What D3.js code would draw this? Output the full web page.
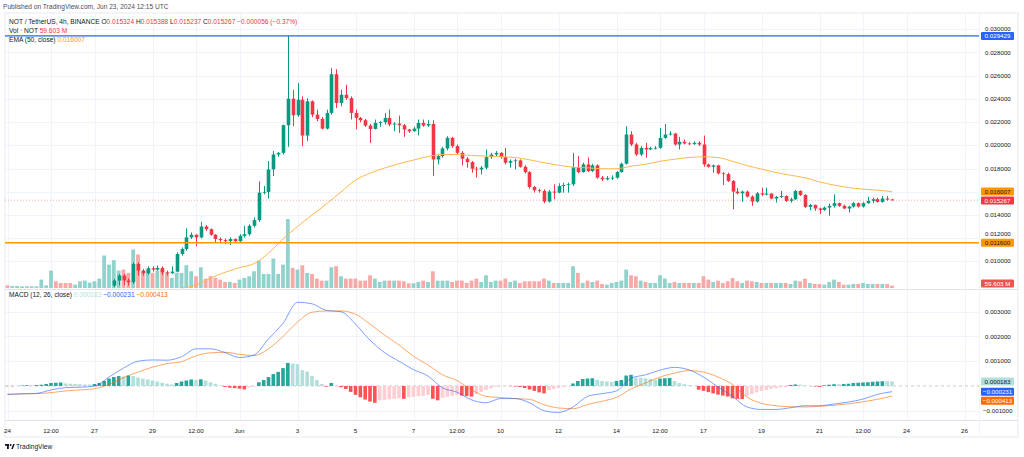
<!DOCTYPE html>
<html lang="en">
<head>
<meta charset="UTF-8">
<title>NOT / TetherUS, 4h, BINANCE</title>
<script src="https://d3js.org/d3.v7.min.js"></script>
<style>
  body { margin: 0; background: #fff; }
  svg { display: block; font-family: "Liberation Sans", Arial, sans-serif; }
</style>
</head>
<body>
<svg id="chart" width="1024" height="457"></svg>
<script>
// ---- data ----
// 4h candles, index 0 = 2024-05-24 00:00 UTC. Candles before index 22 sit below the visible price range.
const firstCandle = 22;
const firstOpen = 0.00791;
const closes = [
  0.00834, 0.00877, 0.00834, 0.00820, 0.00977, 0.00920, 0.00897, 0.00940, 0.00928, 0.00943,
  0.00905, 0.00897, 0.00911, 0.01063, 0.01106, 0.01206, 0.01229, 0.01206, 0.01300, 0.01277,
  0.01229, 0.01192, 0.01183, 0.01174, 0.01192, 0.01174, 0.01220, 0.01234, 0.01306, 0.01355,
  0.01592, 0.01598, 0.01792, 0.01921, 0.01935, 0.02173, 0.02402, 0.02259, 0.02393, 0.02084,
  0.02379, 0.02264, 0.02227, 0.02144, 0.02279, 0.02613, 0.02365, 0.02436, 0.02407, 0.02279,
  0.02236, 0.02216, 0.02170, 0.02141, 0.02193, 0.02199, 0.02236, 0.02179, 0.02187, 0.02173,
  0.02136, 0.02121, 0.02144, 0.02193, 0.02170, 0.02184, 0.01878, 0.01907, 0.01973, 0.02064,
  0.01993, 0.01935, 0.01884, 0.01855, 0.01798, 0.01792, 0.01807, 0.01898, 0.01921, 0.01935,
  0.01898, 0.01850, 0.01864, 0.01870, 0.01815, 0.01769, 0.01641, 0.01612, 0.01606, 0.01515,
  0.01601, 0.01592, 0.01649, 0.01658, 0.01664, 0.01812, 0.01769, 0.01835, 0.01778, 0.01827,
  0.01721, 0.01707, 0.01718, 0.01721, 0.01769, 0.01841, 0.02093, 0.02007, 0.01921, 0.01978,
  0.01964, 0.01975, 0.01978, 0.02064, 0.02093, 0.02101, 0.02007, 0.02030, 0.02016, 0.02010,
  0.02021, 0.02007, 0.01835, 0.01815, 0.01827, 0.01758, 0.01752, 0.01692, 0.01601, 0.01586,
  0.01601, 0.01558, 0.01515, 0.01586, 0.01575, 0.01584, 0.01541, 0.01555, 0.01563, 0.01521,
  0.01535, 0.01606, 0.01572, 0.01469, 0.01486, 0.01455, 0.01443, 0.01463, 0.01478, 0.01501,
  0.01478, 0.01455, 0.01472, 0.01501, 0.01472, 0.01501, 0.01521, 0.01535, 0.01512, 0.01541,
  0.015324, 0.015267
];
const highs = [
  0.00848, 0.00891, 0.00891, 0.00854, 0.00991, 0.00991, 0.00934, 0.00957, 0.00957, 0.00963,
  0.00957, 0.00920, 0.00957, 0.01077, 0.01120, 0.01283, 0.01249, 0.01234, 0.01340, 0.01312,
  0.01283, 0.01234, 0.01206, 0.01197, 0.01206, 0.01197, 0.01234, 0.01306, 0.01320, 0.01378,
  0.01689, 0.01649, 0.01864, 0.01950, 0.01941, 0.02179, 0.029429, 0.02479, 0.02536, 0.02422,
  0.02407, 0.02387, 0.02307, 0.02244, 0.02307, 0.02665, 0.02656, 0.02479, 0.02522, 0.02422,
  0.02307, 0.02244, 0.02227, 0.02184, 0.02222, 0.02210, 0.02279, 0.02307, 0.02199, 0.02256,
  0.02184, 0.02141, 0.02159, 0.02222, 0.02222, 0.02216, 0.02216, 0.01921, 0.01987, 0.02078,
  0.02073, 0.02007, 0.01950, 0.01898, 0.01864, 0.01815, 0.01821, 0.01964, 0.01935, 0.01950,
  0.01941, 0.01978, 0.01878, 0.01884, 0.01878, 0.01827, 0.01778, 0.01649, 0.01626, 0.01621,
  0.01615, 0.01664, 0.01672, 0.01678, 0.01678, 0.01935, 0.01907, 0.01850, 0.01893, 0.01841,
  0.01835, 0.01735, 0.01735, 0.01741, 0.01778, 0.01850, 0.02164, 0.02121, 0.02021, 0.01993,
  0.02021, 0.01987, 0.01993, 0.02150, 0.02184, 0.02121, 0.02107, 0.02073, 0.02050, 0.02027,
  0.02033, 0.02036, 0.02084, 0.01841, 0.01835, 0.01832, 0.01769, 0.01764, 0.01701, 0.01632,
  0.01609, 0.01609, 0.01569, 0.01598, 0.01635, 0.01635, 0.01586, 0.01563, 0.01606, 0.01569,
  0.01549, 0.01615, 0.01612, 0.01578, 0.01495, 0.01489, 0.01463, 0.01472, 0.01498, 0.01578,
  0.01506, 0.01489, 0.01478, 0.01512, 0.01506, 0.01512, 0.01555, 0.01549, 0.01546, 0.01563,
  0.01563, 0.015388
];
const lows = [
  0.00777, 0.00791, 0.00791, 0.00791, 0.00805, 0.00877, 0.00877, 0.00883, 0.00911, 0.00920,
  0.00883, 0.00877, 0.00891, 0.00905, 0.01049, 0.01091, 0.01192, 0.01129, 0.01197, 0.01263,
  0.01220, 0.01163, 0.01163, 0.01149, 0.01140, 0.01163, 0.01163, 0.01206, 0.01220, 0.01292,
  0.01340, 0.01578, 0.01541, 0.01735, 0.01901, 0.01921, 0.01987, 0.02164, 0.02244, 0.01993,
  0.02036, 0.02244, 0.02207, 0.02136, 0.02136, 0.02264, 0.02322, 0.02336, 0.02393, 0.02222,
  0.02136, 0.02199, 0.02159, 0.02021, 0.02136, 0.02159, 0.02179, 0.02164, 0.02121, 0.02107,
  0.02073, 0.02107, 0.02119, 0.02084, 0.02159, 0.02159, 0.01735, 0.01835, 0.01893, 0.01958,
  0.01978, 0.01921, 0.01827, 0.01807, 0.01764, 0.01721, 0.01749, 0.01792, 0.01884, 0.01907,
  0.01884, 0.01835, 0.01807, 0.01792, 0.01807, 0.01758, 0.01626, 0.01592, 0.01592, 0.01501,
  0.01506, 0.01535, 0.01586, 0.01592, 0.01592, 0.01649, 0.01758, 0.01764, 0.01769, 0.01769,
  0.01712, 0.01692, 0.01698, 0.01701, 0.01712, 0.01764, 0.01835, 0.01993, 0.01907, 0.01907,
  0.01893, 0.01958, 0.01964, 0.01970, 0.02056, 0.02084, 0.01998, 0.01964, 0.02007, 0.02001,
  0.02004, 0.01993, 0.01815, 0.01807, 0.01764, 0.01749, 0.01658, 0.01684, 0.01449, 0.01578,
  0.01512, 0.01549, 0.01478, 0.01506, 0.01563, 0.01569, 0.01535, 0.01506, 0.01546, 0.01512,
  0.01506, 0.01529, 0.01563, 0.01460, 0.01440, 0.01435, 0.01406, 0.01435, 0.01392, 0.01463,
  0.01469, 0.01449, 0.01420, 0.01463, 0.01463, 0.01463, 0.01495, 0.01501, 0.01506, 0.01506,
  0.01523, 0.015237
];

// volume in millions, index 0..183
const volumes = [
  68, 51, 51, 43, 43, 43, 43, 213, 68, 442,
  170, 128, 128, 128, 85, 170, 187, 136, 170, 238,
  825, 595, 706, 442, 468, 383, 978, 850, 425, 468,
  383, 442, 468, 383, 255, 383, 383, 578, 425, 298,
  527, 238, 298, 255, 213, 153, 153, 128, 213, 255,
  298, 425, 697, 357, 357, 748, 357, 595, 1751, 510,
  468, 578, 383, 357, 238, 187, 187, 527, 553, 298,
  238, 238, 238, 187, 187, 323, 238, 153, 187, 187,
  187, 187, 170, 119, 119, 153, 187, 153, 425, 187,
  187, 187, 153, 187, 187, 128, 187, 238, 153, 323,
  153, 187, 187, 238, 153, 187, 128, 170, 170, 170,
  170, 238, 187, 128, 128, 128, 128, 553, 383, 128,
  187, 153, 187, 102, 85, 128, 153, 187, 468, 323,
  298, 187, 153, 128, 128, 323, 238, 128, 153, 128,
  128, 128, 128, 128, 298, 213, 153, 187, 128, 170,
  255, 170, 128, 187, 170, 153, 128, 128, 128, 128,
  128, 128, 102, 187, 170, 238, 128, 102, 102, 85,
  153, 213, 153, 85, 85, 102, 102, 128, 102, 102,
  102, 102, 102, 59.603
];
// direction of the hidden early candles (1 = up), index 0..21
const earlyUp = [0, 1, 1, 1, 1, 1, 1, 1, 1, 1, 0, 0, 0, 0, 1, 1, 1, 1, 1, 1, 1, 1];

// EMA(50), one value every 3 candles from index 36
const emaStart = 36;
const ema = [
  0.00770, 0.00795, 0.00855, 0.00905, 0.00945, 0.00980, 0.01070, 0.01192, 0.01300, 0.01398,
  0.01495, 0.01598, 0.01700, 0.01760, 0.01804, 0.01841, 0.01873, 0.01903, 0.01921, 0.01921,
  0.01912, 0.01907, 0.01902, 0.01895, 0.01875, 0.01850, 0.01828, 0.01812, 0.01806, 0.01798,
  0.01798, 0.01820, 0.01836, 0.01862, 0.01880, 0.01895, 0.01901, 0.01894, 0.01862, 0.01825,
  0.01795, 0.01765, 0.01742, 0.01720, 0.01684, 0.01657, 0.01636, 0.01622, 0.01613, 0.016007
];

// MACD histogram, index 0..183
const hist = [
  -0.00001, -0.00001, 0, 0.00002, 0.00003, 0.00003, 0.00004, 0.00005, 0.00008, 0.00012,
  0.00013, 0.00014, 0.00010, 0.00009, 0.00008, 0.00007, 0.00006, 0.00006, 0.00008, 0.00012,
  0.00020, 0.00030, 0.00036, 0.00040, 0.00038, 0.00042, 0.00040, 0.00034, 0.00030, 0.00026,
  0.00022, 0.00018, 0.00013, 0.00009, 0.00006, 0.00012, 0.00018, 0.00022, 0.00026, 0.00025,
  0.00027, 0.00022, 0.00015, 0.00009, 0.00002, -0.00004, -0.00007, -0.00009, -0.00011, -0.00014,
  -0.00006, -0.00003, 0.00015, 0.00024, 0.00036, 0.00048, 0.00057, 0.00072, 0.00093, 0.00090,
  0.00088, 0.00064, 0.00058, 0.00040, 0.00024, 0.00008, -0.00003, 0.00012, 0.00001, -0.00005,
  -0.00012, -0.00024, -0.00036, -0.00046, -0.00055, -0.00063, -0.00068, -0.00058, -0.00056, -0.00054,
  -0.00052, -0.00050, -0.00052, -0.00046, -0.00044, -0.00042, -0.00040, -0.00036, -0.00052, -0.00058,
  -0.00048, -0.00044, -0.00040, -0.00036, -0.00039, -0.00041, -0.00043, -0.00032, -0.00024, -0.00016,
  -0.00010, -0.00004, -0.00002, -0.00001, -0.00001, -0.00002, -0.00004, -0.00008, -0.00014, -0.00020,
  -0.00026, -0.00030, -0.00017, -0.00012, -0.00008, -0.00004, -0.00001, 0.00010, 0.00020, 0.00028,
  0.00030, 0.00031, 0.00025, 0.00020, 0.00018, 0.00016, 0.00020, 0.00024, 0.00042, 0.00045,
  0.00034, 0.00033, 0.00031, 0.00028, 0.00025, 0.00030, 0.00031, 0.00032, 0.00020, 0.00012,
  0.00007, 0.00003, 0.00001, -0.00015, -0.00020, -0.00025, -0.00030, -0.00035, -0.00039, -0.00043,
  -0.00050, -0.00052, -0.00053, -0.00040, -0.00032, -0.00026, -0.00020, -0.00016, -0.00012, -0.00009,
  -0.00006, -0.00004, 0.00004, 0.00006, 0.00005, 0.00002, 0.00001, -0.00002, -0.00004, 0.00003,
  0.00005, 0.00007, 0.00007, 0.00008, 0.00009, 0.00012, 0.00013, 0.00014, 0.00015, 0.00017,
  0.00018, 0.00019, 0.00019, 0.000183
];
// MACD and signal lines, one value every 3 candles from index 0
const macdLine = [
  -0.00034, -0.00032, -0.00030, -0.00016, -0.00007, -0.00005, -0.00001, 0.00036, 0.00072, 0.00100,
  0.00105, 0.00104, 0.00118, 0.00150, 0.00150, 0.00135, 0.00115, 0.00125, 0.00190, 0.00253,
  0.00338, 0.00332, 0.00305, 0.00300, 0.00250, 0.00185, 0.00135, 0.00100, 0.00066, 0.00040,
  -0.00008, -0.00025, -0.00056, -0.00068, -0.00051, -0.00051, -0.00068, -0.00100, -0.00107, -0.00085,
  -0.00042, -0.00031, -0.00020, 0.00031, 0.00045, 0.00064, 0.00075, 0.00065, 0.00036, -0.00004,
  -0.00042, -0.00085, -0.00095, -0.00095, -0.00088, -0.00080, -0.00080, -0.00073, -0.00065, -0.00053,
  -0.00034, -0.000231
];
const signalLine = [
  -0.00034, -0.00032, -0.00031, -0.00027, -0.00020, -0.00016, -0.00011, 0.00006, 0.00034, 0.00056,
  0.00076, 0.00090, 0.00098, 0.00122, 0.00134, 0.00136, 0.00128, 0.00123, 0.00150, 0.00200,
  0.00258, 0.00298, 0.00303, 0.00303, 0.00290, 0.00250, 0.00206, 0.00166, 0.00120, 0.00085,
  0.00045, 0.00022, -0.00016, -0.00042, -0.00047, -0.00051, -0.00054, -0.00076, -0.00089, -0.00092,
  -0.00075, -0.00062, -0.00046, -0.00012, 0.00012, 0.00036, 0.00052, 0.00062, 0.00056, 0.00036,
  0.00006, -0.00045, -0.00070, -0.00080, -0.00084, -0.00085, -0.00082, -0.00078, -0.00072, -0.00064,
  -0.00054, -0.000413
];

const priceTicks = [0.010, 0.012, 0.014, 0.016, 0.018, 0.020, 0.022, 0.024, 0.026, 0.028, 0.030];
const macdTicks = [-0.001, 0.001, 0.002, 0.003];
const timeTicks = ["2024-05-24T00:00Z", "2024-05-25T12:00Z", "2024-05-27T00:00Z", "2024-05-29T00:00Z",
  "2024-05-30T12:00Z", "2024-06-01T00:00Z", "2024-06-03T00:00Z", "2024-06-05T00:00Z", "2024-06-07T00:00Z",
  "2024-06-08T12:00Z", "2024-06-10T00:00Z", "2024-06-12T00:00Z", "2024-06-14T00:00Z", "2024-06-15T12:00Z",
  "2024-06-17T00:00Z", "2024-06-19T00:00Z", "2024-06-21T00:00Z", "2024-06-22T12:00Z", "2024-06-24T00:00Z",
  "2024-06-26T00:00Z"];
const timeLabels = ["24", "12:00", "27", "29", "12:00", "Jun", "3", "5", "7", "12:00", "10", "12", "14",
  "12:00", "17", "19", "21", "12:00", "24", "26"];

const resistance = 0.029429;
const support = 0.0116;

// ---- layout ----
const svg = d3.select("#chart");
const pL = 5, plotR = 979, frameR = 1018;
const pTop = 13, priceBottom = 289, macdBottom = 420, frameBottom = 437;
const axisText = "#131722";
const upCol = "#089981", downCol = "#f23645";

const t0 = Date.UTC(2024, 4, 24);
const at = i => new Date(t0 + i * 4 * 3600 * 1000);

const x = d3.scaleUtc()
  .domain([new Date(Date.UTC(2024, 4, 24)), new Date(Date.UTC(2024, 5, 26))])
  .range([7.5, 964.5]);
const y = d3.scaleLinear().domain([0.010, 0.030]).range([261.3, 29.3]);
const yVol = d3.scaleLinear().domain([0, d3.max(volumes)]).range([288, 219]);
const yM = d3.scaleLinear().domain([-0.001, 0.003]).range([410.7, 311.7]);

const defs = svg.append("defs");
defs.append("clipPath").attr("id", "clipPrice")
  .append("rect").attr("x", pL).attr("y", pTop).attr("width", plotR - pL).attr("height", priceBottom - pTop);
defs.append("clipPath").attr("id", "clipMacd")
  .append("rect").attr("x", pL).attr("y", priceBottom + 1).attr("width", plotR - pL).attr("height", macdBottom - priceBottom - 1);

// header
svg.append("text").attr("x", 3).attr("y", 9).attr("font-size", 6.6).attr("fill", "#4a4e59")
  .text("Published on TradingView.com, Jun 23, 2024 12:15 UTC");

// frame
svg.append("rect").attr("x", pL).attr("y", pTop).attr("width", frameR - pL).attr("height", frameBottom - pTop)
  .attr("fill", "none").attr("stroke", "#e0e3eb").attr("stroke-width", 0.8);

// grid
const grid = svg.append("g").attr("stroke", "#f0f3fa").attr("stroke-width", 1);
timeTicks.forEach(t => {
  const xx = Math.round(x(new Date(t))) + 0.5;
  grid.append("line").attr("x1", xx).attr("x2", xx).attr("y1", pTop).attr("y2", macdBottom);
});
priceTicks.forEach(p => {
  const yy = Math.round(y(p)) + 0.5;
  grid.append("line").attr("x1", pL).attr("x2", plotR).attr("y1", yy).attr("y2", yy);
});
macdTicks.forEach(p => {
  const yy = Math.round(yM(p)) + 0.5;
  grid.append("line").attr("x1", pL).attr("x2", plotR).attr("y1", yy).attr("y2", yy);
});

// pane separators
svg.append("line").attr("x1", pL).attr("x2", frameR).attr("y1", priceBottom + 0.5).attr("y2", priceBottom + 0.5)
  .attr("stroke", "#e0e3eb");
svg.append("line").attr("x1", pL).attr("x2", frameR).attr("y1", macdBottom + 0.5).attr("y2", macdBottom + 0.5)
  .attr("stroke", "#e0e3eb");
svg.append("line").attr("x1", plotR + 0.5).attr("x2", plotR + 0.5).attr("y1", pTop).attr("y2", frameBottom)
  .attr("stroke", "#f0f3fa");

// candles
const candles = closes.map((c, k) => ({
  i: firstCandle + k,
  o: k === 0 ? firstOpen : closes[k - 1],
  h: highs[k], l: lows[k], c: c
}));
const isUp = i => i < firstCandle ? earlyUp[i] === 1 : candles[i - firstCandle].c >= candles[i - firstCandle].o;

const pricePane = svg.append("g").attr("clip-path", "url(#clipPrice)");

// volume
pricePane.append("g").selectAll("rect").data(volumes).join("rect")
  .attr("x", (d, i) => x(at(i)) - 1.9)
  .attr("width", 3.8)
  .attr("y", d => yVol(d))
  .attr("height", d => 288 - yVol(d))
  .attr("fill", (d, i) => isUp(i) ? "#92d2cc" : "#f7a9a7");

// wicks + bodies
const cg = pricePane.append("g");
cg.selectAll("line").data(candles).join("line")
  .attr("x1", d => Math.round(x(at(d.i))) + 0.5)
  .attr("x2", d => Math.round(x(at(d.i))) + 0.5)
  .attr("y1", d => y(d.h)).attr("y2", d => y(d.l))
  .attr("stroke", d => d.c >= d.o ? upCol : downCol).attr("stroke-width", 1);
cg.selectAll("rect").data(candles).join("rect")
  .attr("x", d => Math.round(x(at(d.i))) + 0.5 - 1.8)
  .attr("width", 3.6)
  .attr("y", d => y(Math.max(d.o, d.c)))
  .attr("height", d => Math.max(0.8, Math.abs(y(d.o) - y(d.c))))
  .attr("fill", d => d.c >= d.o ? upCol : downCol);

// EMA
pricePane.append("path").datum(ema)
  .attr("d", d3.line().x((d, k) => x(at(emaStart + k * 3))).y(d => y(d)).curve(d3.curveMonotoneX))
  .attr("fill", "none").attr("stroke", "#ffb74d").attr("stroke-width", 1);

// horizontal levels
pricePane.append("line").attr("x1", pL).attr("x2", plotR)
  .attr("y1", y(resistance)).attr("y2", y(resistance)).attr("stroke", "#2962ff").attr("stroke-width", 1.3);
pricePane.append("line").attr("x1", pL).attr("x2", plotR)
  .attr("y1", y(support)).attr("y2", y(support)).attr("stroke", "#ff9800").attr("stroke-width", 1.3);
const last = candles[candles.length - 1];
pricePane.append("line").attr("x1", pL).attr("x2", plotR)
  .attr("y1", y(last.c)).attr("y2", y(last.c)).attr("stroke", "#f23645").attr("stroke-width", 0.6)
  .attr("stroke-dasharray", "1,2").attr("opacity", 0.7);

// MACD pane
const macdPane = svg.append("g").attr("clip-path", "url(#clipMacd)");
macdPane.append("line").attr("x1", pL).attr("x2", plotR)
  .attr("y1", yM(0)).attr("y2", yM(0)).attr("stroke", "#b2b5be").attr("stroke-width", 0.7)
  .attr("stroke-dasharray", "3,3");
macdPane.append("g").selectAll("rect").data(hist).join("rect")
  .attr("x", (d, i) => x(at(i)) - 1.8)
  .attr("width", 3.6)
  .attr("y", d => d >= 0 ? yM(d) : yM(0))
  .attr("height", d => Math.abs(yM(d) - yM(0)))
  .attr("fill", (d, i) => {
    const prev = i > 0 ? hist[i - 1] : d;
    if (d >= 0) return prev < d ? "#26a69a" : "#b2dfdb";
    return prev < d ? "#ffcdd2" : "#ff5252";
  });
const lineAt = d3.line().x((d, k) => x(at(k * 3))).y(d => yM(d)).curve(d3.curveMonotoneX);
macdPane.append("path").datum(signalLine).attr("d", lineAt)
  .attr("fill", "none").attr("stroke", "#ff6d00").attr("stroke-opacity", 0.6).attr("stroke-width", 1);
macdPane.append("path").datum(macdLine).attr("d", lineAt)
  .attr("fill", "none").attr("stroke", "#2962ff").attr("stroke-opacity", 0.6).attr("stroke-width", 1);

// axes text
const ax = svg.append("g").attr("font-size", 6.2).attr("fill", axisText);
priceTicks.forEach(p => {
  // the 0.012000 label is squeezed up by the support tag, as in the original
  const yy = Math.abs(y(p) - y(support)) < 8 ? y(support) - 8.5 : y(p);
  ax.append("text").attr("x", 985).attr("y", yy).attr("dy", "0.35em").text(p.toFixed(6));
});
macdTicks.forEach(p => {
  ax.append("text").attr("x", p < 0 ? 983 : 985).attr("y", yM(p)).attr("dy", "0.35em")
    .text((p < 0 ? "\u2212" : "") + Math.abs(p).toFixed(6));
});
timeTicks.forEach((t, k) => {
  ax.append("text").attr("x", x(new Date(t))).attr("y", 431).attr("dy", "0.35em")
    .attr("text-anchor", "middle").text(timeLabels[k]);
});

// price scale tags
function tag(yy, label, bg, fg) {
  svg.append("rect").attr("x", 981).attr("y", yy - 4).attr("width", 33).attr("height", 8)
    .attr("rx", 1).attr("fill", bg);
  svg.append("text").attr("x", 997.5).attr("y", yy).attr("dy", "0.35em").attr("text-anchor", "middle")
    .attr("font-size", 6.2).attr("fill", fg).text(label);
}
const fmt = v => (v < 0 ? "\u2212" : "") + Math.abs(v).toFixed(6);
tag(y(resistance), fmt(resistance), "#2962ff", "#fff");
tag(y(ema[ema.length - 1]), fmt(ema[ema.length - 1]), "#ff9800", "#131722");
tag(Math.max(y(last.c), y(ema[ema.length - 1]) + 9), fmt(last.c), "#f23645", "#fff");
tag(y(support), fmt(support), "#ff9800", "#131722");
tag(Math.min(yVol(volumes[volumes.length - 1]), 283.5), volumes[volumes.length - 1].toFixed(3) + " M", "#ef5350", "#fff");

const hLast = hist[hist.length - 1], mLast = macdLine[macdLine.length - 1], sLast = signalLine[signalLine.length - 1];
const tagY1 = yM(hLast);
const tagY2 = Math.max(yM(mLast), tagY1 + 9);
const tagY3 = Math.max(yM(sLast), tagY2 + 9);
tag(tagY1, fmt(hLast), "#b2dfdb", "#131722");
tag(tagY2, fmt(mLast), "#2962ff", "#fff");
tag(tagY3, fmt(sLast), "#ff6d00", "#fff");

// legends
const lg = svg.append("g").attr("font-size", 6.6).attr("fill", axisText);
const l1 = lg.append("text").attr("x", 9).attr("y", 24);
l1.append("tspan").text("NOT / TetherUS, 4h, BINANCE  O");
l1.append("tspan").attr("fill", downCol).text("0.015324");
l1.append("tspan").text(" H");
l1.append("tspan").attr("fill", downCol).text("0.015388");
l1.append("tspan").text(" L");
l1.append("tspan").attr("fill", downCol).text("0.015237");
l1.append("tspan").text(" C");
l1.append("tspan").attr("fill", downCol).text("0.015267  \u22120.000056 (\u22120.37%)");
const l2 = lg.append("text").attr("x", 9).attr("y", 33);
l2.append("tspan").text("Vol \u00b7 NOT  ");
l2.append("tspan").attr("fill", downCol).text("59.603 M");
const l3 = lg.append("text").attr("x", 9).attr("y", 42);
l3.append("tspan").text("EMA (50, close)  ");
l3.append("tspan").attr("fill", "#ff9800").text(fmt(ema[ema.length - 1]));
const l4 = lg.append("text").attr("x", 9).attr("y", 297);
l4.append("tspan").text("MACD (12, 26, close)  ");
l4.append("tspan").attr("fill", "#b2dfdb").text(fmt(hLast) + "  ");
l4.append("tspan").attr("fill", "#2962ff").text(fmt(mLast) + "  ");
l4.append("tspan").attr("fill", "#ff6d00").text(fmt(sLast));

// TradingView mark
const logo = svg.append("g").attr("fill", "#131722");
logo.append("rect").attr("x", 5).attr("y", 444).attr("width", 4).attr("height", 1.8);
logo.append("rect").attr("x", 7).attr("y", 444).attr("width", 1.8).attr("height", 5);
logo.append("circle").attr("cx", 10.6).attr("cy", 445).attr("r", 1);
logo.append("path").attr("d", "M11.2 449 L13.2 444 L14.8 444 L12.8 449 Z");
svg.append("text").attr("x", 16).attr("y", 449).attr("font-size", 6.6).attr("fill", "#131722").text("TradingView");
</script>
</body>
</html>
